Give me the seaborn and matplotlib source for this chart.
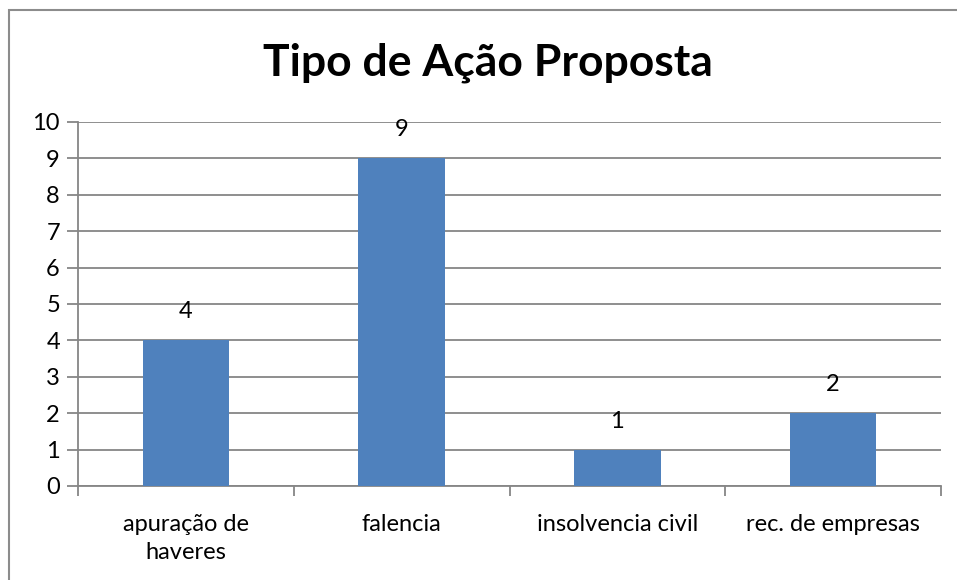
import matplotlib
matplotlib.use("Agg")
import matplotlib.pyplot as plt
import seaborn as sns
import pandas as pd
from matplotlib.patches import Rectangle

categories = ["apuração de\nhaveres", "falencia", "insolvencia civil", "rec. de empresas"]
values = [4, 9, 1, 2]
yticks = list(range(0, 11))

sns.set_theme(style="white")
plt.rcParams['font.family'] = ['Lato', 'DejaVu Sans']
plt.rcParams['text.color'] = 'black'
plt.rcParams['xtick.color'] = 'black'
plt.rcParams['ytick.color'] = 'black'

df = pd.DataFrame({"cat": categories, "val": values})

fig = plt.figure(figsize=(9.57, 5.8), dpi=100)
ax = fig.add_axes([78/957, 1-486/580, (941-78)/957, (486-122)/580])

sns.barplot(data=df, x="cat", y="val", color="#4F81BD", saturation=1, width=0.4,
            edgecolor="none", linewidth=0, ax=ax, zorder=3)

grid_c = "#868686"
ax.set_ylim(0, 10)
ax.set_xlim(-0.5, 3.5)
ax.set_yticks(yticks)
ax.set_yticklabels([str(t) for t in yticks], fontsize=17)
for t in yticks:
    ax.axhline(t, color=grid_c, lw=1.3, zorder=1)
ax.tick_params(axis='y', length=8, color=grid_c, width=1.3, pad=5, left=True, direction='out',
               labelcolor='black')
ax.set_xticks([-0.5, 0.5, 1.5, 2.5, 3.5], minor=False)
ax.set_xticklabels([])
ax.tick_params(axis='x', which='major', length=7, color=grid_c, width=1.3, bottom=True, direction='out')
ax.set_xticks([0, 1, 2, 3], minor=True)
ax.set_xticklabels(categories, minor=True, fontsize=17)
ax.tick_params(axis='x', which='minor', length=0, pad=20, labelcolor='black')
for lbl in ax.get_xticklabels(minor=True):
    lbl.set_linespacing(1.45)

for s in ["top", "right"]:
    ax.spines[s].set_visible(False)
ax.spines["left"].set_color(grid_c)
ax.spines["left"].set_linewidth(1.3)
ax.spines["bottom"].set_color(grid_c)
ax.spines["bottom"].set_linewidth(1.3)
ax.set_xlabel("")
ax.set_ylabel("")

for c in ax.containers:
    ax.bar_label(c, labels=[str(v) for v in values], padding=13, fontsize=17, color='black')

fig.text(488/957, 1-63/580, "Tipo de Ação Proposta", ha="center", va="center",
         fontsize=32, fontweight="bold", color='black')

fig.patches.append(Rectangle((9/957, -0.1), 1, 1.1-10/580, transform=fig.transFigure,
                             fill=False, edgecolor="#8c8c8c", lw=1.5))

fig.savefig("out.png", dpi=100)
